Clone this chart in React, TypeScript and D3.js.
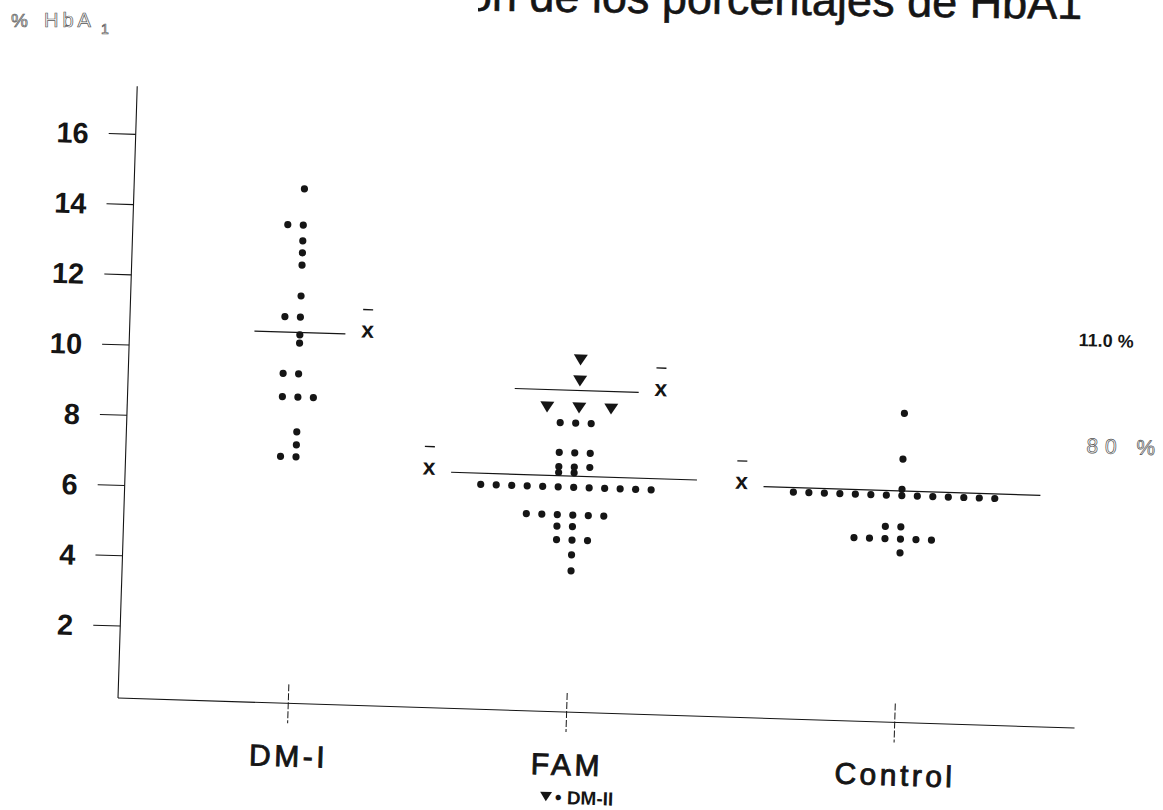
import React from 'react';
import * as d3 from 'd3';

// HbA1 (%) por grupo: DM-I, familiares (FAM) y controles
const CATEGORIES = ['DM-I', 'FAM', 'Control'];
const CATEGORY_POS = [0.178, 0.469, 0.812]; // share of the x-axis length
const Y_TICKS = [2, 4, 6, 8, 10, 12, 14, 16];

const DM1 = [14.6, 13.57, 13.57, 13.12, 12.78, 12.43, 11.55, 10.95, 10.95, 10.44, 10.21,
  9.33, 9.33, 8.67, 8.67, 8.67, 7.68, 7.31, 6.97, 6.97];
const FAM = [8.18, 8.18, 8.18, 7.33, 7.33, 7.33, 6.93, 6.93, 6.93, 6.76, 6.76,
  6.35, 6.35, 6.35, 6.35, 6.35, 6.35, 6.35, 6.35, 6.35, 6.35, 6.35, 6.35,
  5.56, 5.56, 5.56, 5.56, 5.56, 5.56, 5.23, 5.23, 4.85, 4.85, 4.85, 4.43, 3.97];
const FAM_DM2 = [9.98, 9.38, 8.61, 8.61, 8.61];
const CONTROL = [8.75, 7.45, 6.59,
  6.41, 6.41, 6.41, 6.41, 6.41, 6.41, 6.41, 6.41, 6.41, 6.41, 6.41, 6.41, 6.41, 6.41,
  5.52, 5.52, 5.17, 5.17, 5.17, 5.17, 5.17, 5.17, 4.78];

const MEAN_GROUPS = ['DM-I', 'FAM', 'FAM', 'Control'];
const MEAN_VALUES = [10.51, 9.11, 6.67, 6.54];
const MEAN_SIDES = [1, 1, -1, -1];

const NOTE_VALUES = [11.0, 8.0];
const NOTE_LABELS = ['11.0 %', '80 %'];

const W = 1163;
const H = 810;
const AXIS_W = 957;
const AXIS_H = 612;
const DOT_GAP = 15.5;
const TRI_GAP = 32;
const FONT = '"Liberation Sans", Arial, sans-serif';
const INK = '#151515';

// equal values share a row, spread sideways around the category tick
function layout(values: number[]) {
  const out: { v: number; k: number }[] = [];
  for (const [v, arr] of d3.group(values, d => d)) {
    arr.forEach((_, i) => out.push({ v, k: i - Math.floor(arr.length / 2) }));
  }
  return out;
}

const TRI = 'M-7,-5.5L7,-5.5L0,5.5Z';

export default function App() {
  const x = d3.scaleOrdinal<string, number>()
    .domain(CATEGORIES)
    .range(CATEGORY_POS.map(f => f * AXIS_W));
  const y = d3.scaleLinear().domain([0, 16]).range([-1.7, -1.7 - 16 * 35.14]);

  const groups = [
    { cat: 'DM-I', pts: layout(DM1) },
    { cat: 'FAM', pts: layout(FAM) },
    { cat: 'Control', pts: layout(CONTROL) },
  ];
  const tris = layout(FAM_DM2);

  const meanSets = [layout(DM1), tris, layout(FAM), layout(CONTROL)];
  const meanGaps = [DOT_GAP, TRI_GAP, DOT_GAP, DOT_GAP];

  return (
    <svg width={W} height={H} viewBox={`0 0 ${W} ${H}`}
      style={{ position: 'absolute', left: 0, top: 0, background: '#fff' }}>
      <defs>
        <clipPath id="titleClip"><rect x={478} y={0} width={700} height={60} /></clipPath>
      </defs>

      {/* title, cut off by the scan */}
      <g clipPath="url(#titleClip)">
        <text x={1082} y={19} textAnchor="end" fontFamily={FONT} fontSize={45} fill={INK}
          stroke={INK} strokeWidth={0.6} transform="rotate(0.8 1082 19)">
          Distribución de los porcentajes de HbA1
        </text>
      </g>

      {/* y label */}
      <g fontFamily={FONT} fill="none" stroke="#555" strokeWidth={0.7}>
        <text x={11} y={27} fontSize={19}>%</text>
        <text x={44} y={27} fontSize={20} letterSpacing={4}>HbA</text>
        <text x={101} y={34} fontSize={14}>1</text>
      </g>

      <g transform="translate(118,698) rotate(1.8)">
        {/* axes */}
        <line x1={0} y1={0} x2={0} y2={-AXIS_H} stroke={INK} strokeWidth={1.1} />
        <line x1={0} y1={0} x2={AXIS_W} y2={0} stroke={INK} strokeWidth={1.1} />

        {Y_TICKS.map(t => (
          <g key={t}>
            <line x1={-27} x2={0} y1={y(t)} y2={y(t)} stroke={INK} strokeWidth={1.1} />
            <text x={-47} y={y(t)} dy="0.36em" textAnchor="end" fontFamily={FONT}
              fontWeight="bold" fontSize={29} fill={INK}>{t}</text>
          </g>
        ))}

        {CATEGORIES.map(c => (
          <g key={c}>
            <line x1={x(c)} x2={x(c)} y1={-19} y2={20} stroke={INK} strokeWidth={1}
              strokeDasharray="7 2" />
            <text x={x(c) + 2} y={63} textAnchor="middle" fontFamily={FONT} fontSize={30}
              letterSpacing={3.5} fill={INK} stroke={INK} strokeWidth={0.9}>{c}</text>
          </g>
        ))}

        {/* legend under FAM */}
        <g transform={`translate(${x('FAM')},0)`}>
          <path d={TRI} transform="translate(-18,85) scale(0.85)" fill={INK} />
          <text x={-9} y={92} fontFamily={FONT} fontWeight="bold" fontSize={19} fill={INK}>• DM-II</text>
        </g>

        {/* dots */}
        {groups.map(g => (
          <g key={g.cat}>
            {g.pts.map((p, i) => (
              <circle key={i} cx={x(g.cat) + p.k * DOT_GAP} cy={y(p.v)} r={3.6} fill={INK} />
            ))}
          </g>
        ))}
        {tris.map((p, i) => (
          <path key={i} d={TRI}
            transform={`translate(${x('FAM') + 3 + p.k * TRI_GAP},${y(p.v)})`} fill={INK} />
        ))}

        {/* means */}
        {MEAN_VALUES.map((m, i) => {
          const cx = x(MEAN_GROUPS[i]);
          const half = (d3.max(meanSets[i], d => Math.abs(d.k)) ?? 0) * meanGaps[i] + 30;
          const ym = y(m);
          const lx = cx + MEAN_SIDES[i] * (half + 22);
          return (
            <g key={i}>
              <line x1={cx - half} x2={cx + half} y1={ym} y2={ym} stroke={INK} strokeWidth={1.2} />
              <text x={lx} y={ym - 5} dy="0.35em" textAnchor="middle" fontFamily={FONT}
                fontWeight="bold" fontSize={23} fill={INK}>x</text>
              <line x1={lx - 5} x2={lx + 5} y1={ym - 25} y2={ym - 25} stroke={INK} strokeWidth={1.3} />
            </g>
          );
        })}

        {/* reference notes on the right */}
        <text x={949} y={y(NOTE_VALUES[0])} dy="0.35em" fontFamily={FONT} fontWeight="bold"
          fontSize={18} fill={INK}>{NOTE_LABELS[0]}</text>
        <text x={960} y={y(NOTE_VALUES[1])} dy="0.35em" fontFamily={FONT} fontSize={21}
          letterSpacing={7} fill="none" stroke="#555" strokeWidth={0.7}>{NOTE_LABELS[1]}</text>
      </g>
    </svg>
  );
}
